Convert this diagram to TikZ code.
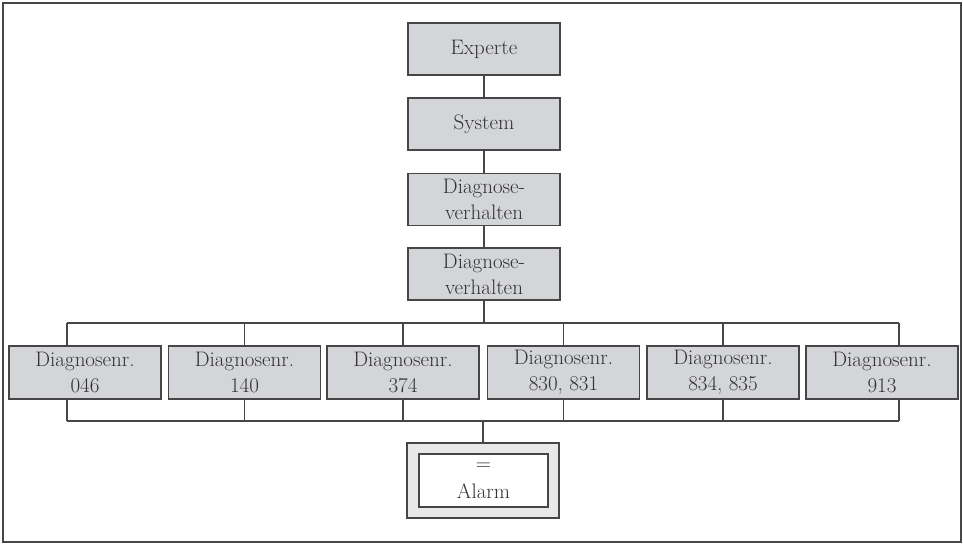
\documentclass[tikz,border=0pt]{standalone}
\usepackage{fontspec}
\usepackage{tikz}
\usetikzlibrary{calc,positioning}

\definecolor{boxgray}{RGB}{212,213,216}
\definecolor{lightgray}{RGB}{232,232,234}
\definecolor{linegray}{RGB}{70,70,70}
\definecolor{textgray}{RGB}{50,50,50}

\begin{document}
\begin{tikzpicture}[x=1pt,y=-1pt,
    menubox/.style={rectangle, draw=linegray, line width=1.2pt, fill=boxgray,
      minimum width=152pt, minimum height=52pt, inner sep=0pt, align=center,
      text=textgray, font=\fontsize{21}{26}\selectfont},
    link/.style={draw=linegray, line width=1.1pt}]
  \useasboundingbox (0,0) rectangle (963,544);
  \draw [linegray, line width=2pt] (3,3) rectangle (961,542);
  % menu path
  \node [menubox] (experte) at (484,49) {Experte};
  \node [menubox] (system) at (484,124) {System};
  \node [menubox] (verh1) at (484,199.5) {Diagnose-\\verhalten};
  \node [menubox] (verh2) at (484,274) {Diagnose-\\verhalten};
  \draw [link] (experte) -- (system);
  \draw [link] (system) -- (verh1);
  \draw [link] (verh1) -- (verh2);
  % diagnostic numbers
  \node [menubox, minimum height=53pt] (nr1) at (85,372.5) {Diagnosenr.\\046};
  \node [menubox, minimum height=53pt] (nr2) at (244.5,372.5) {Diagnosenr.\\140};
  \node [menubox, minimum height=53pt] (nr3) at (403,372.5) {Diagnosenr.\\374};
  \node [menubox, minimum height=53pt] (nr4) at (563.5,372.5) {Diagnosenr.\\830, 831};
  \node [menubox, minimum height=53pt] (nr5) at (723,372.5) {Diagnosenr.\\834, 835};
  \node [menubox, minimum height=53pt] (nr6) at (882,372.5) {Diagnosenr.\\913};
  \coordinate (top1) at (67,323);
  \coordinate (top6) at (899,323);
  \coordinate (bot1) at (67,421);
  \coordinate (bot6) at (899,421);
  \draw [link] (top1) -- (top6);
  \draw [link] (bot1) -- (bot6);
  \draw [link] (verh2) -- (verh2 |- top1);
  \draw [link] (top1) -- (top1 |- nr1.north);
  \draw [link] (bot1) -- (bot1 |- nr1.south);
  \draw [link] (top6) -- (top6 |- nr6.north);
  \draw [link] (bot6) -- (bot6 |- nr6.south);
  \foreach \n in {2,3,4,5} {
    \draw [link] (nr\n.north) -- (nr\n.north |- top1);
    \draw [link] (nr\n.south) -- (nr\n.south |- bot1);
  }
  % result
  \node [rectangle, draw=linegray, line width=1.2pt, fill=lightgray,
    minimum width=152pt, minimum height=75pt] (alarmout) at (483,480.5) {};
  \node [rectangle, draw=linegray, line width=1.2pt, fill=white,
    minimum width=129pt, minimum height=53pt, inner sep=0pt, align=center,
    text=textgray, font=\fontsize{21}{26}\selectfont] (alarm) at (483.5,480.5) {=\\[2pt]Alarm};
  \draw [link] (alarmout) -- (alarmout |- bot1);
\end{tikzpicture}
\end{document}
